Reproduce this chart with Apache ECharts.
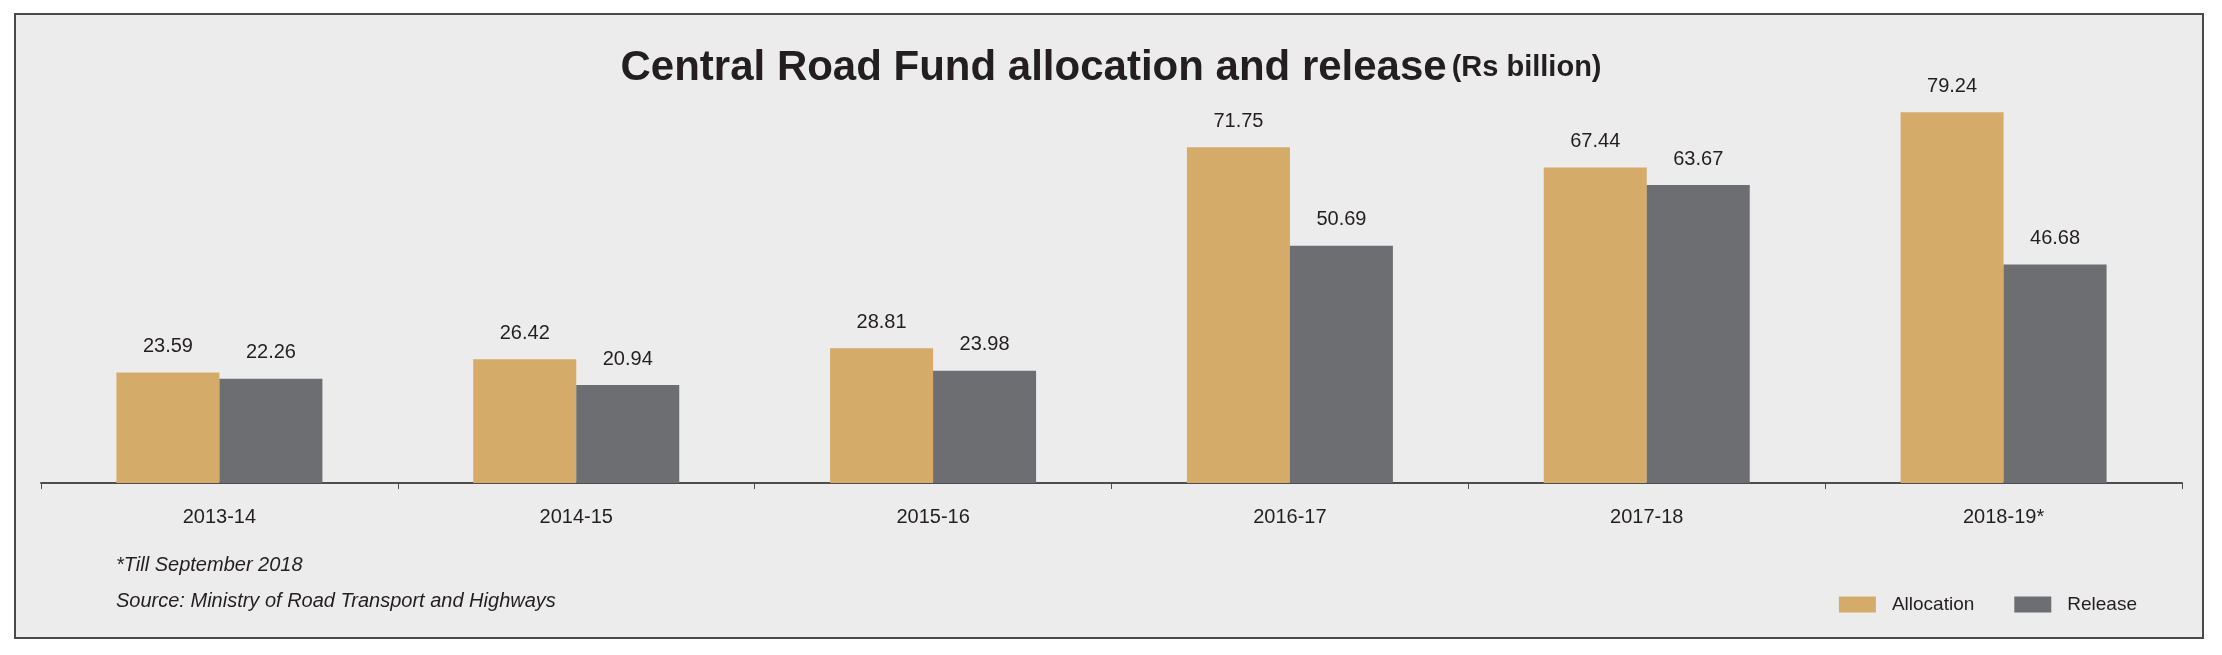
<!DOCTYPE html>
<html>
<head>
<meta charset="utf-8">
<script src="https://cdn.jsdelivr.net/npm/echarts@6/dist/echarts.min.js"></script>
<style>
  html, body { margin: 0; padding: 0; background: #fff; }
  #chart { width: 2222px; height: 655px; }
</style>
</head>
<body>
<div id="chart"></div>
<script>
// data
const years = ['2013-14', '2014-15', '2015-16', '2016-17', '2017-18', '2018-19*'];
const allocation = [23.59, 26.42, 28.81, 71.75, 67.44, 79.24];
const release = [22.26, 20.94, 23.98, 50.69, 63.67, 46.68];
const footnotes = ['*Till September 2018', 'Source: Ministry of Road Transport and Highways'];

const FONT = "'Liberation Sans', Arial, sans-serif";
const INK = '#231f20';

const chart = echarts.init(document.getElementById('chart'));

const valueLabel = {
  show: true,
  position: 'top',
  distance: 16,
  color: INK,
  fontFamily: FONT,
  fontSize: 20,
  formatter: p => p.value.toFixed(2)
};

chart.setOption({
  backgroundColor: '#ffffff',
  animation: false,
  title: {
    text: '{a|Central Road Fund allocation and release} {b|(Rs billion)}',
    left: 'center',
    top: 42,
    textStyle: {
      rich: {
        a: { fontFamily: FONT, fontWeight: 'bold', fontSize: 42, color: INK },
        b: { fontFamily: FONT, fontWeight: 'bold', fontSize: 29, color: INK }
      }
    }
  },
  legend: {
    right: 80,
    top: 590,
    itemWidth: 37,
    itemHeight: 16,
    itemGap: 40,
    icon: 'rect',
    textStyle: { fontFamily: FONT, fontSize: 19, color: INK, padding: [0, 0, 0, 11] },
    data: ['Allocation', 'Release']
  },
  grid: { left: 41, right: 40, top: 15, bottom: 172 },
  xAxis: {
    type: 'category',
    data: years,
    axisLine: { show: true, lineStyle: { color: '#4d4d4d', width: 2 } },
    axisTick: { show: true, length: 6, lineStyle: { color: '#4d4d4d', width: 1 } },
    axisLabel: { fontFamily: FONT, fontSize: 20, color: INK, margin: 24 }
  },
  yAxis: {
    type: 'value',
    min: 0,
    max: 100,
    show: false,
    splitLine: { show: false }
  },
  graphic: [
    {
      type: 'rect',
      z: -10,
      shape: { x: 15, y: 14, width: 2188, height: 624 },
      style: { fill: '#ececec', stroke: '#4a4a4a', lineWidth: 2 }
    },
    {
      type: 'text',
      left: 116,
      top: 555,
      style: { text: footnotes[0], fontFamily: FONT, fontStyle: 'italic', fontSize: 20, fill: INK }
    },
    {
      type: 'text',
      left: 116,
      top: 591,
      style: { text: footnotes[1], fontFamily: FONT, fontStyle: 'italic', fontSize: 20, fill: INK }
    }
  ],
  series: [
    {
      name: 'Allocation',
      type: 'bar',
      data: allocation,
      barWidth: 103,
      barGap: '0%',
      itemStyle: { color: '#d4ab68' },
      label: valueLabel
    },
    {
      name: 'Release',
      type: 'bar',
      data: release,
      barWidth: 103,
      barGap: '0%',
      itemStyle: { color: '#6d6e71' },
      label: valueLabel
    }
  ]
});
</script>
</body>
</html>
